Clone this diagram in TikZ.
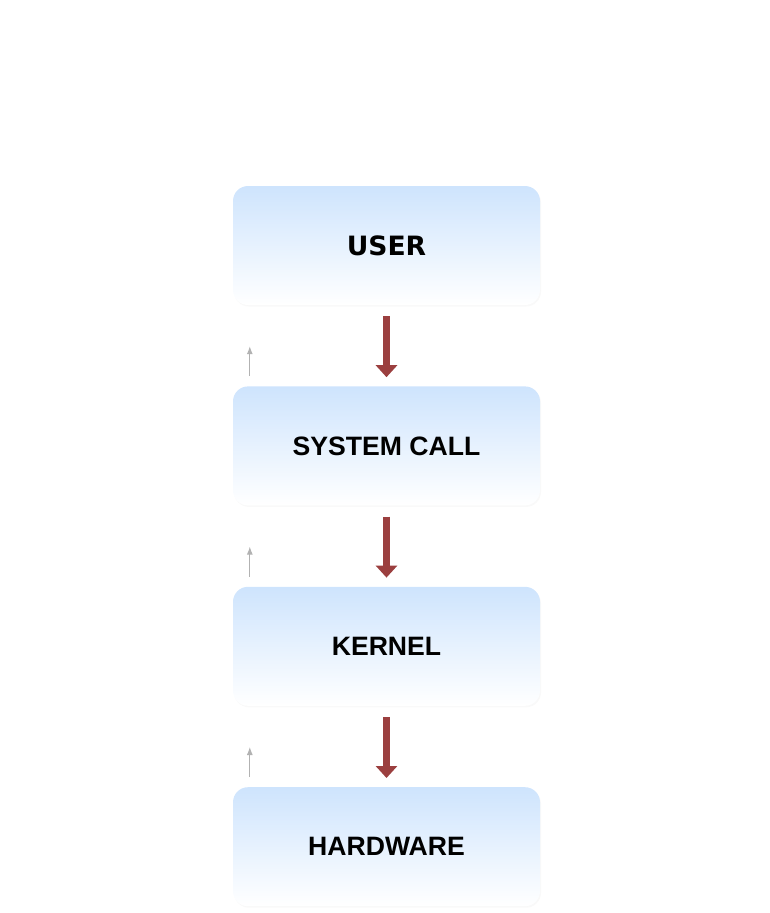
\documentclass[tikz,border=0pt]{standalone}
\usepackage{fontspec}
\setmainfont{Liberation Sans}
\newfontfamily\userfont{DejaVu Sans}
\usepackage{tikz}
\usetikzlibrary{arrows.meta, positioning, shadows}
\tikzset{>=latex}
\definecolor{layerblue}{RGB}{206, 228, 253}
\definecolor{arrowred}{RGB}{155, 63, 63}
\definecolor{backgray}{RGB}{178, 178, 178}
\tikzset{
  layer/.style = {rounded corners = 15pt, minimum width = 307pt, minimum height = 119pt,
    top color = layerblue, bottom color = white, inner sep = 0pt,
    drop shadow = {shadow xshift = 1pt, shadow yshift = -1.5pt, opacity = 0.05},
    font = \fontsize{26.6}{30}\selectfont\bfseries},
  downarrow/.style = {line width = 7pt, arrowred, -{Triangle[width = 21pt, length = 12pt]}},
  backarrow/.style = {line width = 1pt, backgray, -{Latex[width = 6pt, length = 8pt]}}
}

\begin{document}
\begin{tikzpicture}[x = 1pt, y = 1pt]
\useasboundingbox (0,0) rectangle (770,-913);

\node[layer] (user) at (386.5,-245.5) {\userfont\bfseries USER};
\node[layer, below = 81pt of user] (syscall) {SYSTEM CALL};
\node[layer, below = 81pt of syscall] (kernel) {KERNEL};
\node[layer, below = 81pt of kernel] (hardware) {HARDWARE};

\draw[downarrow] ([yshift = -11pt]user.south) -- ([yshift = 9pt]syscall.north);
\draw[downarrow] ([yshift = -11pt]syscall.south) -- ([yshift = 9pt]kernel.north);
\draw[downarrow] ([yshift = -11pt]kernel.south) -- ([yshift = 9pt]hardware.north);

\draw[backarrow] ([xshift = 17pt, yshift = 10pt]syscall.north west) -- ++(0,30);
\draw[backarrow] ([xshift = 17pt, yshift = 10pt]kernel.north west) -- ++(0,30);
\draw[backarrow] ([xshift = 17pt, yshift = 10pt]hardware.north west) -- ++(0,30);

\end{tikzpicture}
\end{document}
